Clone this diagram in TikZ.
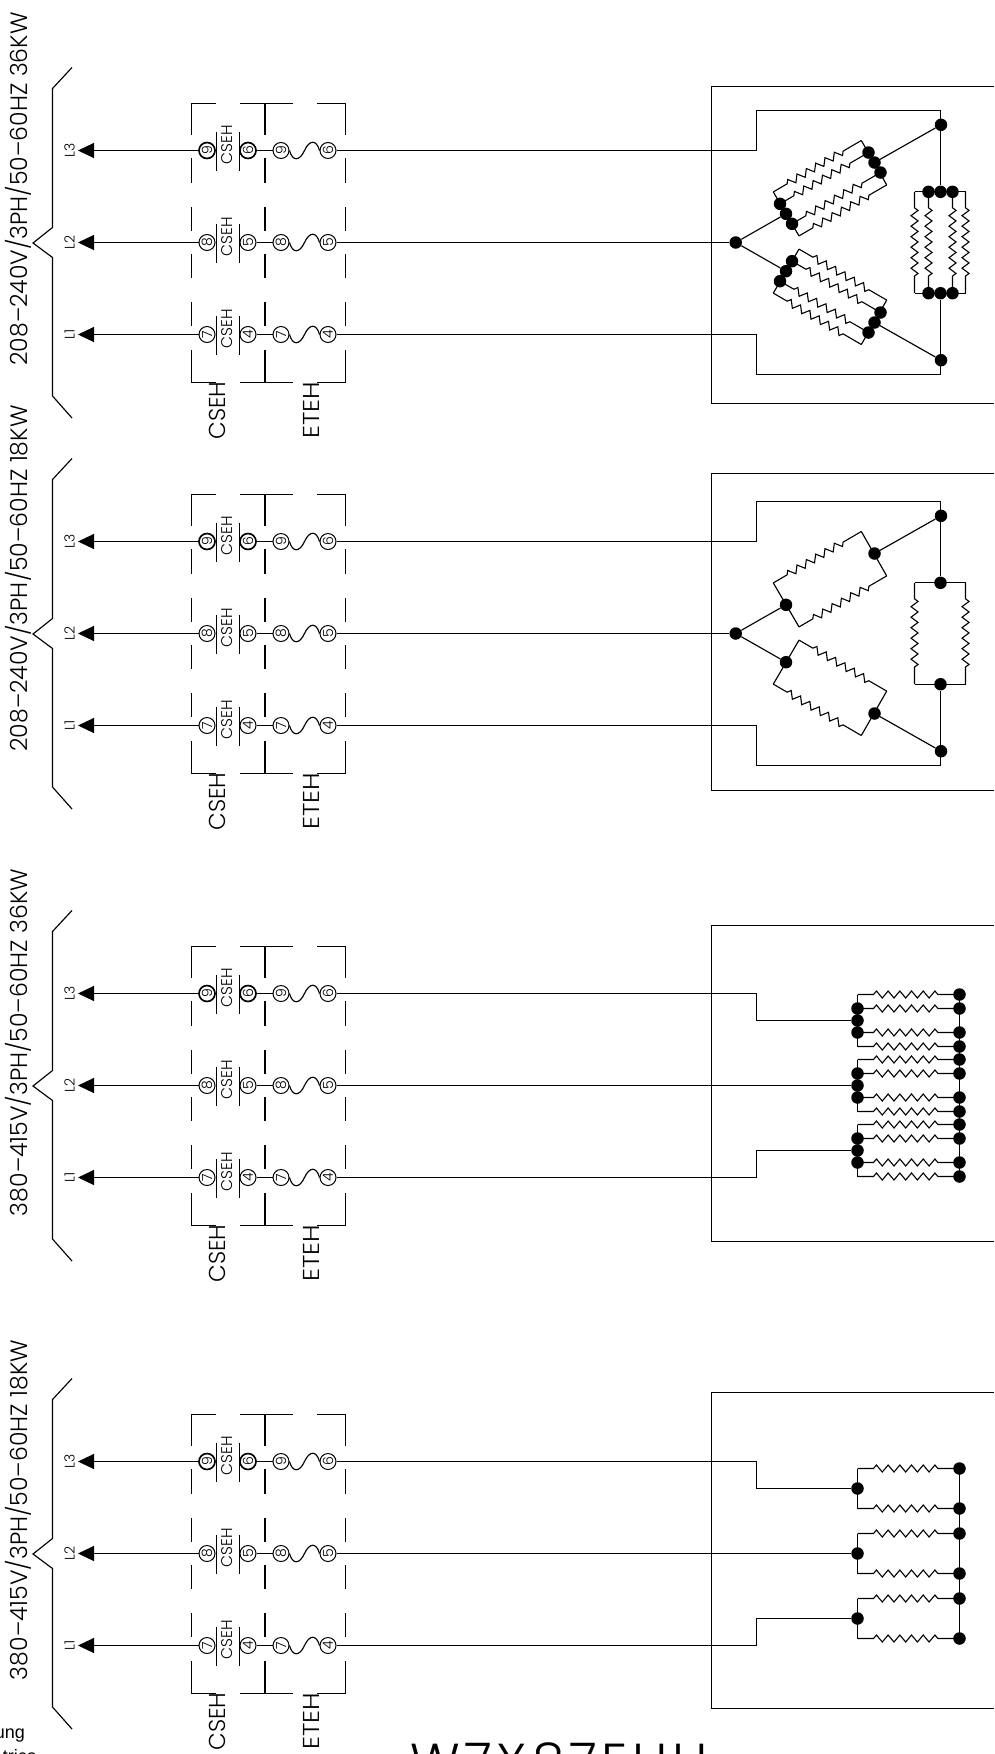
\documentclass[tikz,border=0pt]{standalone}
\usepackage{fontspec}
\usetikzlibrary{arrows.meta,decorations.pathmorphing}
\newfontfamily\cadfont{Poppins Light}
\newfontfamily\plainfont{Liberation Sans}
\tikzset{
    wire/.style={line width=1.15pt},
    term/.style={draw, circle, line width=1pt, inner sep=0pt, minimum size=16pt, font=\cadfont\fontsize{14}{14}\selectfont},
    dot/.style={circle, fill=black, inner sep=0pt, minimum size=12.5pt},
    heater/.style={line width=1.1pt, decorate, decoration={zigzag, amplitude=3.5pt, segment length=#1, pre length=16pt, post length=16pt}},
    heater/.default=10.8pt,
    vlabel/.style={rotate=90, inner sep=0pt, font=\cadfont\fontsize{#1}{#1}\selectfont},
}
\begin{document}
\begin{tikzpicture}[x=1pt, y=-1pt]
    \useasboundingbox (0,0) rectangle (994,1754);
    \clip (0,0) rectangle (994,1754);
    % Starter and fuse rows of every block
    \foreach \block/\off/\top/\bot/\texty/\volt in {
        1/242.5/-156/161/-53.5/{208–240V/3PH/50–60HZ 36KW},
        2/633.5/-160/157/-55/{208–240V/3PH/50–60HZ 18KW},
        3/1085.5/-160/156/-43/{380–415V/3PH/50–60HZ 36KW},
        4/1553.5/-161/155/-43.5/{380–415V/3PH/50–60HZ 18KW}}
    {
    \begin{scope}[shift={(0,\off)}]
        % Brace and supply text
        \draw [wire] (72,-175) -- (52.5,-154) -- (52.5,-15) -- (33,0.5) -- (52.5,15) -- (52.5,153.5) -- (72,175.5);
        \node (b\block volt) [vlabel=23.6] at (18,\texty) {\volt};
        % Cabinet frame
        \draw [wire] (994,\top) -- (711.5,\top) -- (711.5,\bot) -- (994,\bot);
        % Dashed boxes
        \foreach \x/\w in {191.5/1.15,265/2.6,345.5/1.15}
        {
        \foreach \ya/\yb in {-139/-107.5,-84.5/-59.5,-35.5/-11.5,11.5/35.5,59.5/83.5,107.5/140}
            \draw [line width=\w pt] (\x,\ya) -- (\x,\yb);
        }
        \foreach \xa/\xb in {191/216,240/293,317/346}
        {
        \draw [wire] (\xa,-139) -- (\xb,-139);
        \draw [wire] (\xa,140) -- (\xb,140);
        }
        \node (b\block cseh) [vlabel=23] at (217,168) {CSEH};
        \node (b\block eteh) [vlabel=23] at (311,168) {\addfontfeature{FakeStretch=1.12}ETEH};
        % Rows
        \foreach \row/\y/\na/\nb in {3/-92/9/6, 2/0/8/5, 1/92/7/4}
        {
        \coordinate (b\block tip\row) at (78,\y);
        \node (b\block l\row) [vlabel=14] at (69.5,\y) {L\row};
        \node (b\block c\row) [term] at (207,\y) {\rotatebox{90}{\na}};
        \node (b\block d\row) [term] at (248,\y) {\rotatebox{90}{\nb}};
        \node (b\block e\row) [term] at (281,\y) {\rotatebox{90}{\na}};
        \node (b\block f\row) [term] at (328,\y) {\rotatebox{90}{\nb}};
        \node (b\block s\row) [vlabel=15.5] at (227.5,\y-6) {CSEH};
        \coordinate (b\block m\row) at (304.5,\y);
        \draw [wire, {Triangle[length=16pt, width=15pt]}-] (b\block tip\row) -- (b\block c\row);
        \draw [wire] (216.5,\y-19) -- (216.5,\y+20);
        \draw [wire] (239.5,\y-19) -- (239.5,\y+20);
        \draw [wire] (b\block d\row) -- (b\block e\row);
        \draw [wire] (b\block e\row.east) .. controls +(3,11) and +(-5,11) .. (b\block m\row)
            .. controls +(5,-11) and +(-3,-11) .. (b\block f\row.west);
        }
        \draw [line width=1.6pt] (b\block c3) circle (8pt);
        \draw [line width=1.6pt] (b\block d3) circle (8pt);
    \end{scope}
    }
    % Delta heaters
    \foreach \block/\off in {1/242.5, 2/633.5}
    {
    \begin{scope}[shift={(0,\off)}]
        \node (b\block hub) [dot] at (735.7,0) {};
        \draw [wire] (b\block f2) -- (b\block hub);
        \foreach \s/\n/\row in {-1/u/3, 1/l/1}
        {
        \node (b\block \n a) [dot] at (786,\s*28.7) {};
        \node (b\block \n b) [dot] at (874.5,\s*80) {};
        \node (b\block \n t) [dot] at (941,\s*117.7) {};
        \node (b\block \n m) [dot] at (940.5,\s*50.7) {};
        \coordinate (b\block \n p) at (773.3,\s*50.6);
        \coordinate (b\block \n q) at (799,\s*6.6);
        \coordinate (b\block \n r) at (861.3,\s*102);
        \coordinate (b\block \n v) at (886.7,\s*57.6);
        \coordinate (b\block \n k) at (756.5,\s*132);
        \coordinate (b\block \n j) at (940.5,\s*132);
        \draw [wire] (b\block hub) -- (b\block \n a);
        \draw [wire] (b\block \n b) -- (b\block \n t);
        \draw [wire] (b\block \n p) -- (b\block \n q) (b\block \n r) -- (b\block \n v);
        \draw [heater] (b\block \n p) -- (b\block \n r);
        \draw [heater] (b\block \n q) -- (b\block \n v);
        \draw [wire] (b\block f\row) -| (b\block \n k) -- (b\block \n j) -- (b\block \n m);
        }
        \draw [wire] (914.5,-50.7) -- (965.5,-50.7) (914.5,50.7) -- (965.5,50.7);
        \foreach \x in {914.5,965.5}
            \draw [heater=10.5pt] (\x,-50.7) -- (\x,50.7);
    \end{scope}
    }
    % Doubled elements of the 36KW delta
    \begin{scope}[shift={(0,242.5)}]
        \foreach \s/\n in {-1/u, 1/l}
        {
        \foreach \k/\side in {-1/i, 1/o}
        {
        \node (b1\n a\side) [dot] at (786+\k*6,\s*28.7-\s*\k*10) {};
        \node (b1\n b\side) [dot] at (874.5+\k*6,\s*80-\s*\k*10) {};
        \draw [heater] (b1\n a\side.center) -- (b1\n b\side.center);
        \node (b1\n e\side) [dot] at (940.5+\k*12,\s*50.7) {};
        }
        }
        \foreach \x in {928.5,952.5}
            \draw [heater=10.5pt] (\x,-50.7) -- (\x,50.7);
    \end{scope}
    % Star heaters, 36KW
    \begin{scope}[shift={(0,1085.5)}]
        \draw [wire] (959.5,-90.7) -- (959.5,90.7);
        \foreach \row/\c in {3/-65, 2/0, 1/65}
        {
        \node (b3w\row) [dot] at (857.5,\c) {};
        \draw [wire] (b3f\row) -| (756.5,\c) -- (b3w\row);
        \draw [wire] (857.5,\c-26) -- (857.5,\c+26);
        \foreach \r/\o in {a/-26,b/-12,c/12,d/26}
        {
        \coordinate (b3l\row\r) at (857.5,\c+\o);
        \node (b3r\row\r) [dot] at (959.5,\c+\o) {};
        \draw [heater=11.7pt] (b3l\row\r) -- (b3r\row\r.center);
        }
        \node (b3i\row) [dot] at (b3l\row b) {};
        \node (b3o\row) [dot] at (b3l\row c) {};
        }
    \end{scope}
    % Star heaters, 18KW
    \begin{scope}[shift={(0,1553.5)}]
        \draw [wire] (959.5,-84.7) -- (959.5,84.7);
        \foreach \row/\c in {3/-65, 2/0, 1/65}
        {
        \node (b4w\row) [dot] at (857.5,\c) {};
        \draw [wire] (b4f\row) -| (756.5,\c) -- (b4w\row);
        \draw [wire] (857.5,\c-20) -- (857.5,\c+20);
        \foreach \r/\o in {a/-20,b/20}
        {
        \coordinate (b4l\row\r) at (857.5,\c+\o);
        \node (b4r\row\r) [dot] at (959.5,\c+\o) {};
        \draw [heater=11.7pt] (b4l\row\r) -- (b4r\row\r.center);
        }
        }
    \end{scope}
    % Cut off at the sheet edge
    \node (ung) [anchor=base east, inner sep=0pt, font=\plainfont\fontsize{18}{18}\selectfont] at (25,1738) {ung};
    \node (trica) [anchor=base east, inner sep=0pt, font=\plainfont\fontsize{18}{18}\selectfont] at (37,1762) {trica};
    \node (model) [anchor=base west, inner sep=0pt, font=\cadfont\fontsize{52}{52}\selectfont] at (410,1780) {\addfontfeature{LetterSpace=9}W7X87EHH};
\end{tikzpicture}
\end{document}
